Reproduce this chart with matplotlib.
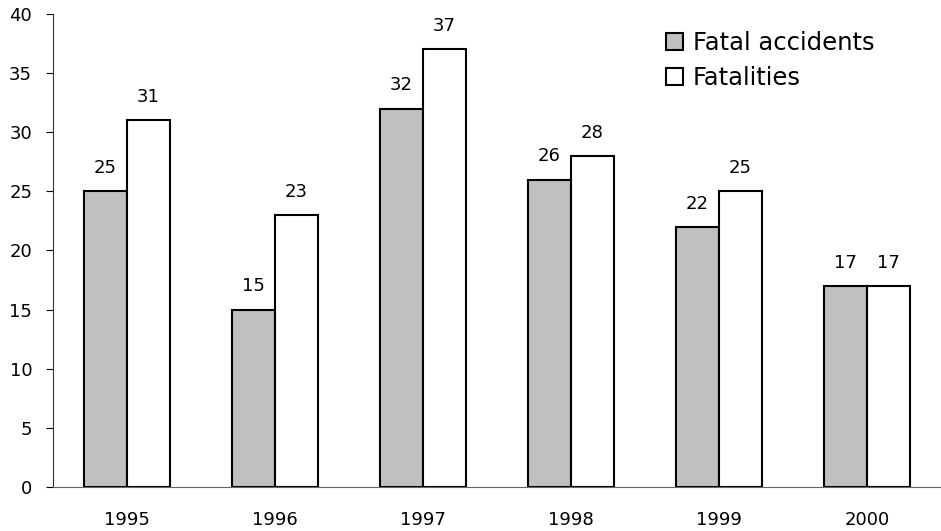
import matplotlib
matplotlib.use("Agg")
import matplotlib.pyplot as plt
import numpy as np

years = ["1995", "1996", "1997", "1998", "1999", "2000"]
fatal_accidents = [25, 15, 32, 26, 22, 17]
fatalities = [31, 23, 37, 28, 25, 17]
yticks = [0, 5, 10, 15, 20, 25, 30, 35, 40]

plt.rcParams['font.family'] = ['DejaVu Sans']
fig = plt.figure(figsize=(9.41, 5.31), dpi=100)
ax = fig.add_axes([0.0563, 0.0829, 0.9437, 0.8907])

x = np.arange(len(years))
w = 0.29
b1 = ax.bar(x - w/2, fatal_accidents, w, color="#c0c0c0", edgecolor="black", linewidth=1.5, label="Fatal accidents")
b2 = ax.bar(x + w/2, fatalities, w, color="white", edgecolor="black", linewidth=1.5, label="Fatalities")

for rect, v in zip(b1, fatal_accidents):
    ax.text(rect.get_x() + rect.get_width()/2, v + 1.2, str(v), ha="center", va="bottom", fontsize=13)
for rect, v in zip(b2, fatalities):
    ax.text(rect.get_x() + rect.get_width()/2, v + 1.2, str(v), ha="center", va="bottom", fontsize=13)

ax.set_xlim(-0.5, len(years) - 0.5)
ax.set_ylim(0, 40)
ax.set_yticks(yticks)
ax.set_xticks(x)
ax.set_xticklabels(years, fontsize=13)
ax.tick_params(axis="y", labelsize=13, length=5, direction="out", pad=10)
ax.tick_params(axis="x", length=0, pad=17)
ax.spines["top"].set_visible(False)
ax.spines["right"].set_visible(False)
ax.spines["left"].set_color("#333333")
ax.spines["bottom"].set_color("#666666")

ax.legend(loc="upper left", bbox_to_anchor=(0.671, 1.0), frameon=False, fontsize=17.5,
          handlelength=0.72, handleheight=0.72, handletextpad=0.4, labelspacing=0.45,
          borderaxespad=0.3)

fig.savefig("out.png", dpi=100)
